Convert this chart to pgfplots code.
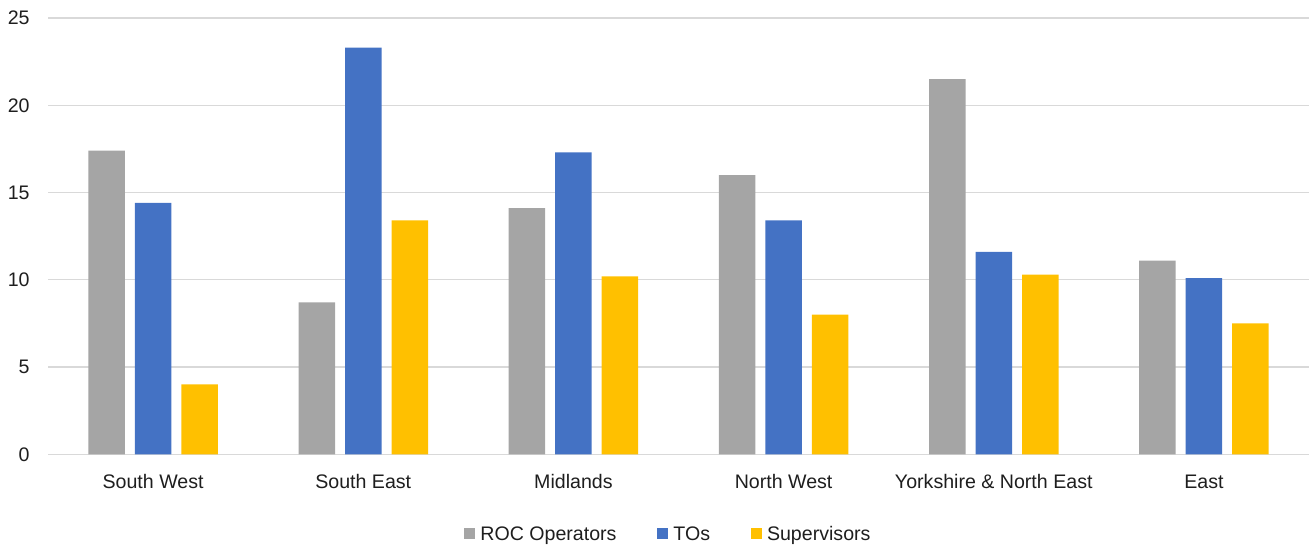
\documentclass[border=0pt]{standalone}
\usepackage{pgfplots}
\pgfplotsset{compat=1.18}
\usepackage{fontspec}
\setmainfont{Liberation Sans}

\definecolor{rocgray}{HTML}{A5A5A5}
\definecolor{toblue}{HTML}{4472C4}
\definecolor{supgold}{HTML}{FFC000}
\definecolor{gridgray}{HTML}{D9D9D9}
\definecolor{labeltext}{HTML}{1E1E1E}

\begin{document}
\fontsize{9.8bp}{11.8bp}\selectfont
\begin{tikzpicture}
\begin{axis}[
  name=ax,
  scale only axis,
  width=630.5bp,
  height=218.15bp,
  xmin=-0.5, xmax=5.5,
  ymin=0, ymax=25,
  ybar=5bp,
  bar width=18.25bp,
  xtick={0,1,2,3,4,5},
  xticklabels={South West, South East, Midlands, North West, Yorkshire \& North East, East},
  ytick={0,5,...,25},
  ymajorgrids,
  grid style={draw=gridgray, line width=0.6bp},
  axis line style={draw=none},
  major tick length=0pt,
  tick style={draw=none},
  /pgf/number format/assume math mode=true,
  tick label style={font=\fontsize{9.8bp}{11.8bp}\selectfont, text=labeltext, inner sep=0pt},
  xticklabel style={anchor=base, yshift=-17bp},
  yticklabel style={anchor=east, xshift=-9bp},
  legend columns=3,
  legend style={
    at={(0,0)}, anchor=west, xshift=208bp, yshift=-40.3bp,
    draw=none, fill=none, inner sep=0pt, outer sep=0pt,
    font=\fontsize{9.8bp}{11.8bp}\selectfont, text=labeltext,
    nodes={inner sep=0pt},
    cells={anchor=base},
    column sep=2.7bp,
    /tikz/every even column/.append style={column sep=20.25bp},
  },
  legend image code/.code={\fill[#1] (0bp,0.75bp) rectangle (5.5bp,6.25bp);},
]
\addplot[fill=rocgray, draw=none] coordinates {(0,17.4) (1,8.7) (2,14.1) (3,16.0) (4,21.5) (5,11.1)};
\addplot[fill=toblue, draw=none] coordinates {(0,14.4) (1,23.3) (2,17.3) (3,13.4) (4,11.6) (5,10.1)};
\addplot[fill=supgold, draw=none] coordinates {(0,4.0) (1,13.4) (2,10.2) (3,8.0) (4,10.3) (5,7.5)};
\legend{ROC Operators, TOs, Supervisors}
\end{axis}
\pgfresetboundingbox
\path[use as bounding box] ([xshift=-24bp,yshift=-45.35bp]ax.south west) rectangle ([yshift=9bp]ax.north east);
\end{tikzpicture}
\end{document}
